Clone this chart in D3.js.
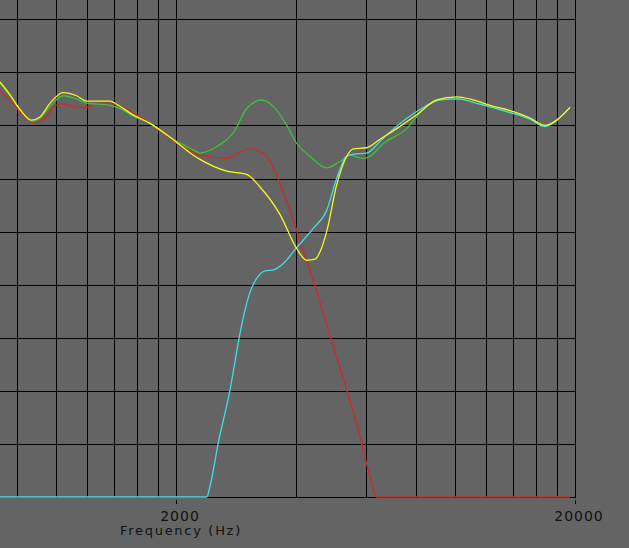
<!DOCTYPE html>
<html>
<head>
<meta charset="utf-8">
<script src="https://cdn.jsdelivr.net/npm/d3@7"></script>
<style>
  html, body { margin: 0; padding: 0; background: #646464; overflow: hidden; }
  svg { display: block; }
</style>
</head>
<body>
<svg id="chart" width="629" height="548"></svg>
<script>
// ---- Data (frequency in Hz, level in dB) ----
const yellowFreq = [724, 767, 813, 869, 912, 967, 1042, 1127, 1195, 1367, 1420, 1560, 1721, 2008, 2210, 2297, 2680, 3008, 3248, 3646, 4014, 4252, 4461, 4592, 4771, 5055, 5356, 5565, 6011, 6491, 7148, 8023, 9004, 10103, 11121, 12247, 14016, 15432, 16828, 17998, 19432];
const yellowDb   = [89.1, 87.9, 86.5, 85.5, 85.8, 87.1, 88.1, 87.8, 87.3, 87.3, 87.0, 86.0, 85.2, 83.4, 82.2, 81.8, 80.7, 80.4, 79.2, 76.6, 73.4, 72.3, 72.4, 73.1, 75.0, 79.4, 82.1, 82.8, 82.9, 83.7, 84.7, 86.0, 87.4, 87.7, 87.4, 86.9, 86.3, 85.7, 85.0, 85.5, 86.7];

const greenFreq = [724, 767, 813, 873, 912, 967, 1042, 1127, 1195, 1367, 1448, 1560, 1721, 2008, 2210, 2297, 2578, 2784, 3008, 3280, 3508, 3789, 4014, 4334, 4771, 5153, 5459, 5895, 6128, 6615, 7573, 8318, 9177, 10103, 11559, 13490, 15432, 16828, 17998, 19432];
const greenDb   = [89.0, 87.8, 86.5, 85.4, 85.7, 86.8, 87.8, 87.5, 87.1, 86.9, 86.6, 85.9, 85.2, 83.5, 82.7, 82.4, 83.2, 84.3, 86.6, 87.4, 86.8, 85.0, 83.3, 82.1, 81.0, 81.6, 82.2, 81.9, 82.1, 83.3, 84.7, 86.5, 87.4, 87.5, 87.0, 86.3, 85.6, 84.9, 85.5, 86.7];

const redFreq = [724, 767, 813, 876, 939, 1000, 1042, 1149, 1217, 1290, 1367, 1448, 1721, 2008, 2297, 2680, 2893, 3066, 3310, 3577, 3789, 3975, 4169, 4417, 4678, 4956, 5356, 5784, 6128, 6368, 19432];
const redDb   = [88.3, 87.4, 86.3, 85.3, 85.7, 86.9, 87.0, 86.7, 86.8, 87.1, 87.1, 86.8, 85.2, 83.3, 82.2, 81.9, 82.5, 82.8, 82.4, 80.3, 77.8, 75.6, 73.1, 70.4, 67.3, 64.2, 60.1, 55.7, 51.9, 50.0, 50.0];

const cyanFreq = [724, 2388, 2433, 2553, 2732, 2893, 2978, 3066, 3187, 3343, 3508, 3716, 4014, 4417, 4771, 5055, 5356, 5565, 6011, 6491, 6747, 8176, 9177, 10103, 11559, 13490, 15432, 16828, 17998, 19432];
const cyanDb   = [50.0, 50.0, 51.0, 55.1, 60.1, 65.4, 67.6, 69.3, 70.6, 71.3, 71.4, 72.0, 73.5, 75.3, 77.0, 80.0, 82.1, 82.3, 82.4, 83.5, 84.1, 86.5, 87.4, 87.5, 87.0, 86.3, 85.6, 84.9, 85.5, 86.7];

const vGridFreq = [800, 1000, 1200, 1400, 1600, 1800, 2000, 4000, 6000, 8000, 10000, 12000, 14000, 16000, 18000, 20000];
const hGridDb = [50, 55, 60, 65, 70, 75, 80, 85, 90, 95];
const tickLabels = [2000, 20000];
const axisTitle = "Frequency (Hz)";

// ---- Scales ----
const x = d3.scaleLog().domain([2000, 20000]).range([176, 575]);
const y = d3.scaleLinear().domain([50, 95]).range([497, 19.3]);

const svg = d3.select("#chart");
svg.append("rect").attr("width", 629).attr("height", 548).attr("fill", "#646464");

const crisp = v => Math.round(v) + 0.5;
const plotLeft = 0, plotRight = crisp(x(20000)), plotTop = 0, plotBottom = crisp(y(50));

const grid = svg.append("g").attr("stroke", "#000").attr("stroke-width", 1.4).attr("shape-rendering", "crispEdges");
grid.selectAll("line.v").data(vGridFreq).join("line")
  .attr("x1", d => crisp(x(d))).attr("x2", d => crisp(x(d)))
  .attr("y1", plotTop).attr("y2", plotBottom);
grid.selectAll("line.h").data(hGridDb).join("line")
  .attr("x1", plotLeft).attr("x2", plotRight)
  .attr("y1", d => crisp(y(d))).attr("y2", d => crisp(y(d)));

// tick marks
svg.append("g").attr("stroke", "#000").attr("stroke-width", 1).attr("shape-rendering", "crispEdges")
  .selectAll("line").data(tickLabels).join("line")
  .attr("x1", d => crisp(x(d))).attr("x2", d => crisp(x(d)))
  .attr("y1", 500).attr("y2", 504);

// ---- Curves ----
const line = d3.line()
  .x(d => x(d[0]))
  .y(d => y(d[1]))
  .curve(d3.curveMonotoneX);

const series = [
  { f: redFreq, v: redDb, color: "#d02a2a" },
  { f: greenFreq, v: greenDb, color: "#3cc23c" },
  { f: cyanFreq, v: cyanDb, color: "#3ee0e0" },
  { f: yellowFreq, v: yellowDb, color: "#f8f820" }
];

svg.append("defs").append("clipPath").attr("id", "clip")
  .append("rect").attr("x", 0).attr("y", 0).attr("width", plotRight + 1).attr("height", plotBottom + 1);

svg.append("g").attr("clip-path", "url(#clip)")
  .selectAll("path").data(series).join("path")
  .attr("fill", "none")
  .attr("stroke", d => d.color)
  .attr("stroke-width", 1.3)
  .attr("stroke-linejoin", "round")
  .attr("d", d => line(d.f.map((f, i) => [f, d.v[i]])));

// ---- Labels ----
svg.selectAll("text.tick").data(tickLabels).join("text")
  .attr("x", d => x(d) + 4)
  .attr("y", 521)
  .attr("text-anchor", "middle")
  .attr("font-family", "'DejaVu Sans', Verdana, sans-serif")
  .attr("font-size", 14)
  .attr("letter-spacing", 1)
  .attr("fill", "#111")
  .text(d => d);

svg.append("text")
  .attr("x", x(2000) + 5)
  .attr("y", 535)
  .attr("text-anchor", "middle")
  .attr("font-family", "'DejaVu Sans', Verdana, sans-serif")
  .attr("font-size", 13)
  .attr("letter-spacing", 1.7)
  .attr("fill", "#111")
  .text(axisTitle);
</script>
</body>
</html>
